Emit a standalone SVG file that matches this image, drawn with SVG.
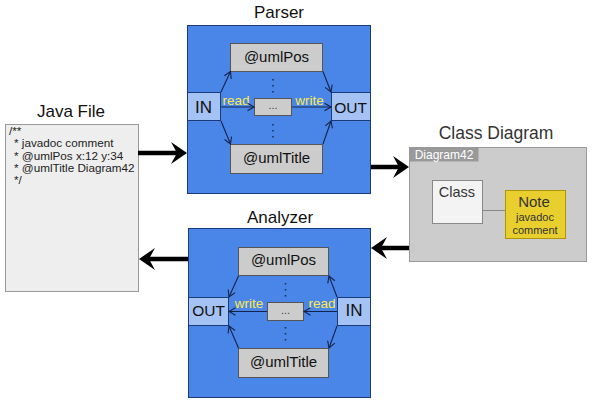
<svg xmlns="http://www.w3.org/2000/svg" width="592" height="406" viewBox="0 0 592 406">
<defs>
<style>
text{font-family:"Liberation Sans",Arial,sans-serif}
.title{font-size:17px;fill:#111;text-anchor:middle}
.proc{fill:#4a86e8;stroke:#1c3a78;stroke-width:1}
.port{fill:#a4c2f4;stroke:#1c3a78;stroke-width:1}
.gbox{fill:#cccccc;stroke:#555;stroke-width:1}
.gtxt{font-size:15px;fill:#111;text-anchor:middle}
.ptxt{font-size:17px;fill:#111;text-anchor:middle}
.ytxt{font-size:13.5px;fill:#ffe94a;text-anchor:middle}
.dots{stroke:#1c2f55;stroke-width:1.6;stroke-dasharray:1.4 4.6}
.thin{stroke:#14234a;stroke-width:1.1;fill:none;marker-end:url(#open)}
.thick{stroke:#000;stroke-width:4.5;fill:none;marker-end:url(#solid)}
.jtxt{font-size:11.7px;fill:#222}
</style>
<marker id="open" markerUnits="userSpaceOnUse" viewBox="-8 -5 10 10" refX="0" refY="0" markerWidth="10" markerHeight="10" orient="auto">
<path d="M-6.5,-3.8 L0,0 L-6.5,3.8" fill="none" stroke="#14234a" stroke-width="1.1"/>
</marker>
<marker id="solid" markerUnits="userSpaceOnUse" viewBox="-20 -13 24 26" refX="-6" refY="0" markerWidth="24" markerHeight="26" orient="auto">
<path d="M0,0 L-16,-11 L-10,0 L-16,11 Z" fill="#000"/>
</marker>
</defs>

<g id="java-file">
<text class="title" x="71" y="117">Java File</text>
<rect x="5.5" y="124.5" width="133" height="167" fill="#eeeeee" stroke="#999"/>
<text class="jtxt" x="9" y="135">/**</text>
<text class="jtxt" x="14" y="147">* javadoc comment</text>
<text class="jtxt" x="14" y="159.5">* @umlPos x:12 y:34</text>
<text class="jtxt" x="14" y="172">* @umlTitle Diagram42</text>
<text class="jtxt" x="14" y="184">*/</text>
</g>

<g id="parser">
<text class="title" x="279" y="18">Parser</text>
<rect class="proc" x="187.5" y="25.5" width="183" height="168"/>
<rect class="gbox" x="230.5" y="43.5" width="92" height="28"/>
<text class="gtxt" x="276.5" y="62">@umlPos</text>
<rect class="gbox" x="230.5" y="144.5" width="92" height="29"/>
<text class="gtxt" x="276.5" y="163">@umlTitle</text>
<rect class="port" x="187.5" y="92.5" width="33" height="28"/>
<text class="ptxt" x="203.5" y="113">IN</text>
<rect class="port" x="331.5" y="92.5" width="39" height="28"/>
<text class="ptxt" x="350.5" y="113" style="font-size:15.5px">OUT</text>
<rect class="gbox" x="254.5" y="98.5" width="37" height="17"/>
<text x="273" y="109" style="font-size:11px;fill:#444;text-anchor:middle">...</text>
<text class="ytxt" x="236" y="105">read</text>
<text class="ytxt" x="309.5" y="105">write</text>
<line class="dots" x1="273" y1="79" x2="273" y2="93"/>
<line class="dots" x1="273" y1="124" x2="273" y2="138"/>
</g>

<g id="analyzer">
<text class="title" x="280" y="222.5">Analyzer</text>
<rect class="proc" x="188.5" y="228.5" width="182" height="169"/>
<rect class="gbox" x="238.5" y="247.5" width="90" height="28"/>
<text class="gtxt" x="283.5" y="265">@umlPos</text>
<rect class="gbox" x="238.5" y="348.5" width="90" height="29"/>
<text class="gtxt" x="283.5" y="367">@umlTitle</text>
<rect class="port" x="188.5" y="297.5" width="40" height="28"/>
<text class="ptxt" x="208.5" y="316" style="font-size:15.5px">OUT</text>
<rect class="port" x="337.5" y="297.5" width="33" height="28"/>
<text class="ptxt" x="354" y="316">IN</text>
<rect class="gbox" x="267.5" y="302.5" width="36" height="18"/>
<text x="285.5" y="313.5" style="font-size:11px;fill:#444;text-anchor:middle">...</text>
<text class="ytxt" x="249" y="308">write</text>
<text class="ytxt" x="322" y="308">read</text>
<line class="dots" x1="285.5" y1="283" x2="285.5" y2="297"/>
<line class="dots" x1="285.5" y1="327" x2="285.5" y2="341"/>
</g>

<g id="class-diagram">
<text class="title" x="496" y="138.5" style="font-size:17.5px;fill:#333">Class Diagram</text>
<rect x="409.5" y="147.5" width="177" height="114" fill="#cccccc" stroke="#999"/>
<rect x="409.5" y="147.5" width="69" height="14" fill="#999999"/>
<text x="444" y="158.5" style="font-size:12px;fill:#fff;text-anchor:middle">Diagram42</text>
<rect x="432.5" y="180.5" width="50" height="43" fill="#f3f3f3" stroke="#888"/>
<text x="457" y="197" style="font-size:14.5px;fill:#333;text-anchor:middle">Class</text>
<line x1="483" y1="210.5" x2="505" y2="210.5" stroke="#888"/>
<rect x="505.5" y="190.5" width="60" height="48" fill="#e8cf2e" stroke="#b0930c"/>
<text x="534" y="207" style="font-size:15px;fill:#333;text-anchor:middle">Note</text>
<text x="535" y="221" style="font-size:11px;fill:#333;text-anchor:middle">javadoc</text>
<text x="535" y="234" style="font-size:11px;fill:#333;text-anchor:middle">comment</text>
</g>

<g id="connectors">
<line class="thick" x1="138" y1="153" x2="181" y2="153"/>
<line class="thick" x1="371" y1="167" x2="403" y2="167"/>
<line class="thick" x1="409" y1="248" x2="377" y2="248"/>
<line class="thick" x1="188" y1="259" x2="145" y2="259"/>
<line class="thin" x1="221" y1="92" x2="230.5" y2="71.5"/>
<line class="thin" x1="221" y1="121" x2="230.5" y2="144"/>
<line class="thin" x1="323" y1="71.5" x2="331" y2="92"/>
<line class="thin" x1="323" y1="144" x2="331" y2="121"/>
<line class="thin" x1="221" y1="107" x2="254" y2="107"/>
<line class="thin" x1="292" y1="107" x2="331" y2="107"/>
<line class="thin" x1="238.5" y1="276" x2="229" y2="297"/>
<line class="thin" x1="238.5" y1="348" x2="229" y2="326"/>
<line class="thin" x1="337" y1="297" x2="329" y2="276"/>
<line class="thin" x1="337" y1="326" x2="329" y2="348"/>
<line class="thin" x1="337" y1="311.5" x2="304" y2="311.5"/>
<line class="thin" x1="267" y1="311.5" x2="229" y2="311.5"/>
</g>
</svg>
